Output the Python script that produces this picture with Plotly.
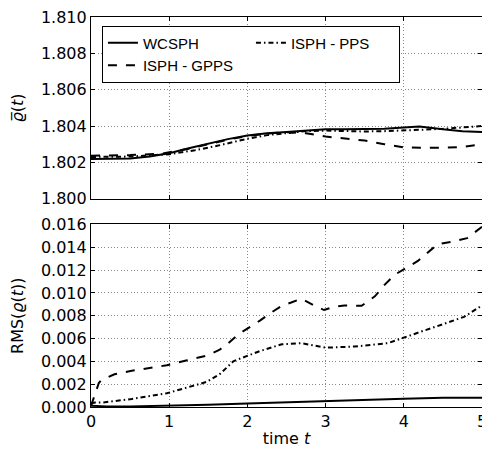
import plotly.graph_objects as go
from plotly.subplots import make_subplots

# ---------------- data ----------------
# mean density, top panel
t_mean_wc = [0, 0.5, 0.75, 1.0, 1.25, 1.5, 1.75, 2.0, 2.25, 2.5, 2.75, 3.0, 3.25, 3.5, 3.75, 4.0, 4.2, 4.5, 4.75, 5.0]
mean_wc = [1.80218, 1.80222, 1.80232, 1.80250, 1.80278, 1.80305, 1.80328, 1.80348, 1.80360, 1.80367,
           1.80375, 1.80382, 1.80382, 1.80383, 1.80385, 1.80392, 1.80398, 1.80382, 1.80372, 1.80367]

t_mean_gpps = [0, 0.5, 0.9, 1.25, 1.5, 1.75, 2.0, 2.25, 2.5, 2.75, 3.0, 3.25, 3.5, 3.75, 4.0, 4.25, 4.5, 4.75, 5.0]
mean_gpps = [1.80237, 1.80240, 1.80248, 1.80275, 1.80300, 1.80325, 1.80345, 1.80358, 1.80366, 1.80360,
             1.80342, 1.80330, 1.80320, 1.80300, 1.80283, 1.80280, 1.80280, 1.80285, 1.80300]

t_mean_pps = [0, 0.5, 1.0, 1.33, 1.6, 1.85, 2.0, 2.25, 2.5, 2.75, 3.0, 3.5, 3.75, 4.0, 4.25, 4.5, 4.75, 5.0]
mean_pps = [1.80230, 1.80232, 1.80245, 1.80267, 1.80290, 1.80317, 1.80330, 1.80350, 1.80362, 1.80372,
            1.80375, 1.80370, 1.80372, 1.80378, 1.80380, 1.80385, 1.80392, 1.80400]

# RMS of density, bottom panel
t_rms_wc = [0, 0.2, 0.5, 1.0, 1.5, 2.0, 2.5, 3.0, 3.5, 4.0, 4.5, 5.0]
rms_wc = [0.00012, 0.00005, 0.00005, 0.00010, 0.00020, 0.00030, 0.00042, 0.00052, 0.00060, 0.00073, 0.00080, 0.00082]

t_rms_gpps = [0, 0.05, 0.1, 0.13, 0.3, 0.52, 0.75, 0.97, 1.23, 1.48, 1.64, 1.74, 1.89, 2.03, 2.16, 2.31, 2.44,
              2.56, 2.69, 2.86, 2.98, 3.11, 3.24, 3.46, 3.63, 3.76, 3.89, 4.0, 4.18, 4.43, 4.64, 4.81, 4.94, 5.0]
rms_gpps = [0.0001, 0.0012, 0.0021, 0.00235, 0.00287, 0.00317, 0.0034, 0.00366, 0.0041, 0.0045, 0.0050, 0.0055,
            0.0064, 0.00698, 0.00757, 0.0083, 0.00887, 0.00916, 0.0095, 0.00887, 0.0085, 0.0088, 0.0089, 0.00887,
            0.0097, 0.01075, 0.01162, 0.01206, 0.0128, 0.01426, 0.01452, 0.0148, 0.01545, 0.0158]

t_rms_pps = [0, 0.05, 0.16, 0.52, 0.97, 1.23, 1.48, 1.65, 1.82, 1.89, 2.16, 2.44, 2.69, 3.0, 3.37, 3.8,
             4.0, 4.26, 4.52, 4.77, 5.0]
rms_pps = [0.0003, 0.0004, 0.0004, 0.0007, 0.0012, 0.0017, 0.0022, 0.0029, 0.0040, 0.0042, 0.0049, 0.0055,
           0.0056, 0.0052, 0.0053, 0.0056, 0.0061, 0.0067, 0.0073, 0.0079, 0.0089]

series_names = ["WCSPH", "ISPH - GPPS", "ISPH - PPS"]
mean_ticks = [1.800, 1.802, 1.804, 1.806, 1.808, 1.810]
rms_ticks = [0.000, 0.002, 0.004, 0.006, 0.008, 0.010, 0.012, 0.014, 0.016]
time_ticks = [0, 1, 2, 3, 4, 5]

# ---------------- figure ----------------
# the page body has an 8px default margin, so the figure is sized to the visible area
fig = make_subplots(rows=2, cols=1, shared_xaxes=False)

dash_styles = ["solid", "dash", "5px,3px,1.5px,3px"]
ranks = [1, 3, 2]
top_x = [t_mean_wc, t_mean_gpps, t_mean_pps]
top_y = [mean_wc, mean_gpps, mean_pps]
bot_x = [t_rms_wc, t_rms_gpps, t_rms_pps]
bot_y = [rms_wc, rms_gpps, rms_pps]

for i, name in enumerate(series_names):
    fig.add_trace(go.Scatter(x=top_x[i], y=top_y[i], mode="lines", name=name,
                             line=dict(color="black", width=2, dash=dash_styles[i]),
                             legendrank=ranks[i], showlegend=True), row=1, col=1)
    fig.add_trace(go.Scatter(x=bot_x[i], y=bot_y[i], mode="lines", name=name,
                             line=dict(color="black", width=2, dash=dash_styles[i]),
                             showlegend=False), row=2, col=1)

tickfont = dict(family="DejaVu Sans", size=16, color="black")
common_axis = dict(showline=True, linecolor="black", linewidth=1.2, mirror="ticks",
                   ticks="inside", ticklen=4, tickcolor="black", tickwidth=1,
                   showgrid=True, gridcolor="#888888", gridwidth=1, griddash="1px,2.3px",
                   zeroline=False, tickfont=tickfont, automargin=False,
                   ticklabeloverflow="allow")

fig.update_xaxes(**common_axis)
fig.update_yaxes(**common_axis)

fig.update_layout(
    width=482, height=446,
    margin=dict(l=83, r=8, t=9, b=47),
    paper_bgcolor="white", plot_bgcolor="white",
    font=dict(family="DejaVu Sans", size=16, color="black"),
    xaxis=dict(range=[0, 5], tickvals=time_ticks, showticklabels=False, matches="x2"),
    xaxis2=dict(range=[0, 5], tickvals=time_ticks,
                title=dict(text="time <i>t</i>", font=dict(size=16), standoff=2)),
    yaxis=dict(domain=[0.534, 1.0], range=[1.800, 1.810], tickvals=mean_ticks, tickformat=".3f",
               title=dict(text="<i>ϱ\u0305</i>(<i>t</i>)", font=dict(size=16))),
    yaxis2=dict(domain=[0.0, 0.468], range=[0.0, 0.016], tickvals=rms_ticks, tickformat=".3f",
                title=dict(text="RMS(<i>ϱ</i>(<i>t</i>))", font=dict(size=16))),
    legend=dict(orientation="h", x=0.028, y=0.978, xanchor="left", yanchor="top",
                bgcolor="white", bordercolor="black", borderwidth=1,
                font=dict(family="Liberation Sans", size=15, color="black"),
                entrywidth=103, entrywidthmode="pixels", traceorder="normal"),
    showlegend=True,
)

fig.write_html("out.html")
